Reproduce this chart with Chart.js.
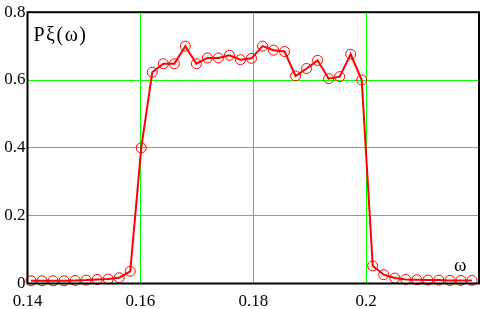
<!DOCTYPE html>
<html>
<head>
<meta charset="utf-8">
<script src="https://cdn.jsdelivr.net/npm/chart.js@4"></script>
<style>
html,body{margin:0;padding:0;background:#fff;}
#wrap{width:487px;height:309px;}
</style>
</head>
<body>
<div id="wrap"><canvas id="c" width="487" height="309"></canvas></div>
<script>
// frequency samples (ω)
const omega = [0.140625,0.142578,0.144531,0.146484,0.148438,0.150391,0.152344,0.154297,0.15625,0.158203,
  0.160156,0.162109,0.164063,0.166016,0.167969,0.169922,0.171875,0.173828,0.175781,0.177734,
  0.179688,0.181641,0.183594,0.185547,0.1875,0.189453,0.191406,0.193359,0.195313,0.197266,
  0.199219,0.201172,0.203125,0.205078,0.207031,0.208984,0.210938,0.212891,0.214844,0.216797,0.21875];
// spectral density Pξ(ω)
const P = [0.008,0.008,0.008,0.008,0.009,0.010,0.012,0.013,0.017,0.036,
  0.40,0.623,0.648,0.648,0.70,0.648,0.665,0.665,0.673,0.66,
  0.664,0.70,0.688,0.684,0.612,0.634,0.658,0.604,0.61,0.676,
  0.60,0.052,0.026,0.016,0.012,0.011,0.010,0.010,0.009,0.009,0.009];
const xTicks = [0.14,0.16,0.18,0.2,0.22];
const xTickLabels = ['0.14','0.16','0.18','0.2',''];
const yTicks = [0,0.2,0.4,0.6,0.8];
const yTickLabels = ['0','0.2','0.4','0.6','0.8'];
const yLabel = 'Pξ(ω)';
const xLabel = 'ω';

const serif = "'Liberation Serif', serif";
const G = '#00ff00';
const gridColors = ['rgba(0,0,0,0)', G, G, G, 'rgba(0,0,0,0)'];

const frame = {
  id:'frame',
  afterDraw(chart){
    const {ctx, chartArea:a} = chart;
    ctx.save();
    ctx.strokeStyle='#000'; ctx.lineWidth=2;
    ctx.strokeRect(a.left, a.top, a.right-a.left, a.bottom-a.top);
    ctx.fillStyle='#000';
    ctx.font='20px '+serif;
    ctx.textBaseline='alphabetic'; ctx.textAlign='left';
    ctx.letterSpacing='1.5px';
    ctx.fillText(yLabel, a.left+6, a.top+29);
    ctx.letterSpacing='0px';
    ctx.font='19px '+serif;
    ctx.fillText(xLabel, a.right-25, a.bottom-13);
    ctx.restore();
  }
};

new Chart(document.getElementById('c'), {
  type:'line',
  data:{
    datasets:[{
      data: omega.map((x,i)=>({x:x, y:P[i]})),
      borderColor:'#ff0000',
      borderWidth:2,
      pointRadius:5,
      pointBorderWidth:1,
      pointBorderColor:'#ff0000',
      pointBackgroundColor:'rgba(0,0,0,0)',
      tension:0,
      clip:false
    }]
  },
  options:{
    responsive:false,
    animation:false,
    layout:{padding:{top:7,right:3,left:0,bottom:0}},
    plugins:{legend:{display:false}, tooltip:{enabled:false}},
    scales:{
      x:{
        type:'linear', min:0.14, max:0.22,
        afterBuildTicks(s){ s.ticks = xTicks.map(v=>({value:v})); },
        afterFit(s){ s.height = 25.5; },
        ticks:{
          callback:(v,i)=>xTickLabels[i],
          font:{family:serif, size:17}, color:'#000', padding:8, maxRotation:0, autoSkip:false
        },
        grid:{color:gridColors, lineWidth:1, drawTicks:false},
        border:{display:false}
      },
      y:{
        type:'linear', min:0, max:0.8,
        afterBuildTicks(s){ s.ticks = yTicks.map(v=>({value:v})); },
        afterFit(s){ s.width = 27.5; },
        ticks:{
          callback:(v,i)=>yTickLabels[i],
          font:{family:serif, size:17}, color:'#000', padding:2
        },
        grid:{color:gridColors, lineWidth:1, drawTicks:false},
        border:{display:false}
      }
    }
  },
  plugins:[frame]
});
</script>
</body>
</html>
